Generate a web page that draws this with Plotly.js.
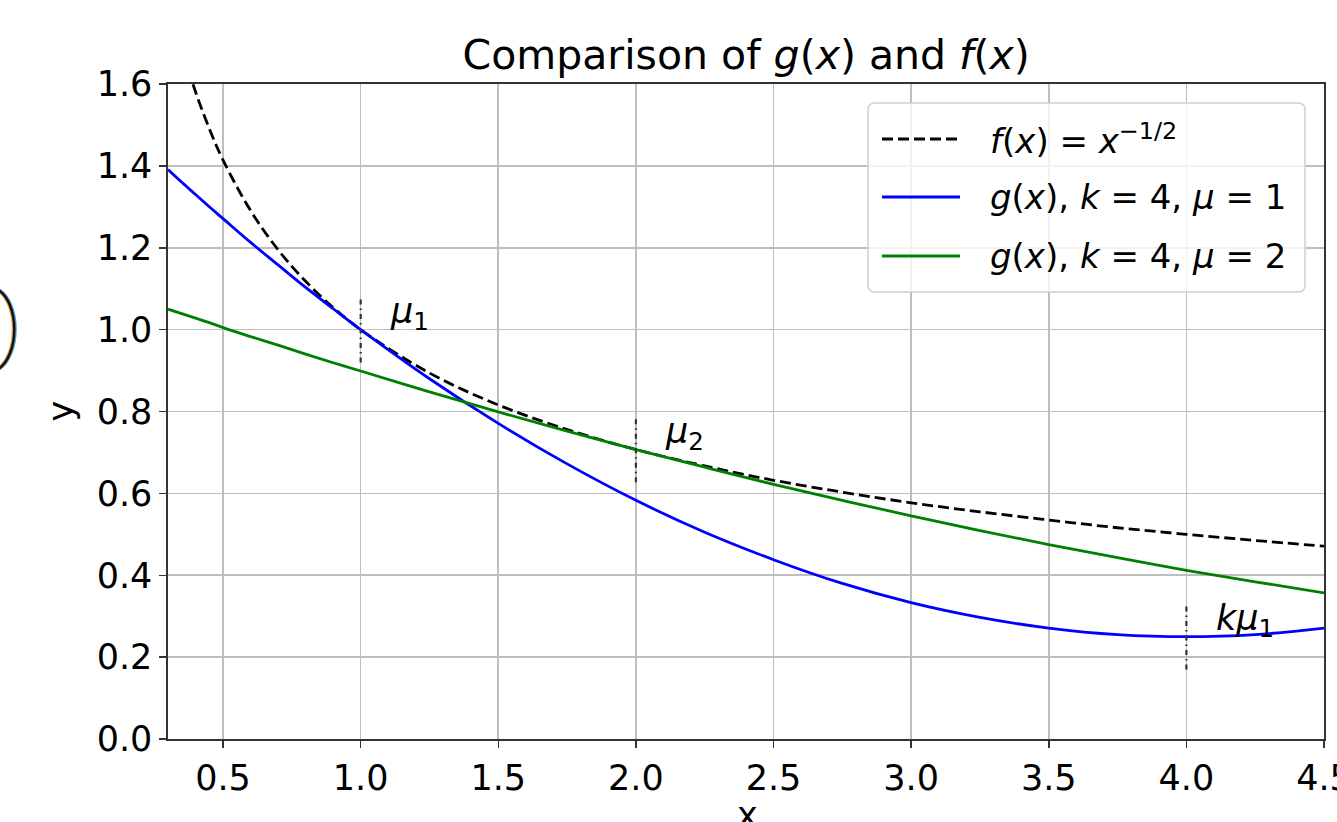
<!DOCTYPE html>
<html>
<head>
<meta charset="utf-8">
<script src="https://cdn.plot.ly/plotly-3.0.1.min.js"></script>
<style>html,body{margin:0;padding:0;background:#fff;overflow:hidden;}#chart{width:1337px;height:822px;}</style>
</head>
<body>
<div id="chart"></div>
<script>
// x samples
const xVals = [0.3,0.35,0.4,0.45,0.5,0.6,0.7,0.8,0.9,1.0,1.25,1.5,1.75,2.0,2.25,2.5,2.75,3.0,3.25,3.5,3.75,4.0,4.25,4.5];
// f(x) = x^(-1/2)  (dashed black)
const fVals = [1.826,1.690,1.581,1.491,1.414,1.291,1.195,1.118,1.054,1.000,0.894,0.816,0.756,0.707,0.667,0.632,0.603,0.577,0.555,0.535,0.516,0.500,0.485,0.471];
// g(x), k=4, mu=1 (blue)
const g1Vals = [1.391,1.360,1.330,1.300,1.271,1.213,1.158,1.103,1.051,1.000,0.880,0.771,0.672,0.583,0.505,0.438,0.380,0.333,0.297,0.271,0.255,0.250,0.255,0.271];
// g(x), k=4, mu=2 (green)
const g2Vals = [1.050,1.039,1.028,1.017,1.005,0.983,0.962,0.940,0.919,0.899,0.848,0.799,0.752,0.707,0.664,0.622,0.583,0.545,0.509,0.475,0.443,0.412,0.384,0.357];

// vertical markers
const muX = [1, 2, 4];
const muY = [1.0, 0.707, 0.25];
const muLabels = ['<i>μ</i><sub>1</sub>', '<i>μ</i><sub>2</sub>', '<i>kμ</i><sub>1</sub>'];

// tick labels
const xTicks = [0.5,1,1.5,2,2.5,3,3.5,4,4.5];
const xTickText = ['0.5','1.0','1.5','2.0','2.5','3.0','3.5','4.0','4.5'];
const yTicks = [0,0.2,0.4,0.6,0.8,1.0,1.2,1.4,1.6];
const yTickText = ['0.0','0.2','0.4','0.6','0.8','1.0','1.2','1.4','1.6'];

const seriesNames = ['<i>f</i>(<i>x</i>) = <i>x</i><sup>−1/2</sup>',
                     '<i>g</i>(<i>x</i>), <i>k</i> = 4, <i>μ</i> = 1',
                     '<i>g</i>(<i>x</i>), <i>k</i> = 4, <i>μ</i> = 2'];
const seriesColors = ['#000000', '#0000ff', '#008000'];
const seriesDash = ['11px,5px', 'solid', 'solid'];

const FONT = 'DejaVu Sans, Verdana, sans-serif';

const traces = [];
[fVals, g1Vals, g2Vals].forEach((ys, i) => {
  traces.push({
    x: xVals, y: ys, type: 'scatter', mode: 'lines', name: seriesNames[i],
    line: {color: seriesColors[i], width: 2.8, dash: seriesDash[i], shape: 'spline', smoothing: 1},
    showlegend: false, hoverinfo: 'skip'
  });
});

const half = 0.08;
const mx = [], my = [];
muX.forEach((m, i) => { mx.push(m, m, null); my.push(muY[i] - half, muY[i] + half, null); });
traces.push({x: mx, y: my, type: 'scatter', mode: 'lines',
  line: {color: '#333', width: 2.2, dash: '5px,4px,1.5px,4px'}, showlegend: false, hoverinfo: 'skip'});

const annotations = muX.map((m, i) => ({
  x: m + 0.1, y: muY[i] + 0.04, xref: 'x', yref: 'y', xanchor: 'left', yanchor: 'middle',
  text: muLabels[i], showarrow: false, font: {family: FONT, size: 35, color: '#000'}
}));

// pixel -> paper helpers for the plot area (168..1324, 84..739)
const px = p => (p - 168) / 1156;
const py = p => (739 - p) / 655;

// axis titles
annotations.push({x: px(747), y: py(815), xref: 'paper', yref: 'paper', xanchor: 'center', yanchor: 'middle',
  text: 'x', showarrow: false, font: {family: FONT, size: 35, color: '#000'}});
annotations.push({x: px(60), y: 0.5, xref: 'paper', yref: 'paper', xanchor: 'center', yanchor: 'middle',
  text: 'y', textangle: -90, showarrow: false, font: {family: FONT, size: 35, color: '#000'}});

// manual legend
const lx0 = px(868), lx1 = px(1305), ly0 = py(292), ly1 = py(103);
const rx = 7 / 1156, ry = 7 / 655;
const boxPath = `M${lx0+rx},${ly0} L${lx1-rx},${ly0} Q${lx1},${ly0} ${lx1},${ly0+ry} L${lx1},${ly1-ry} Q${lx1},${ly1} ${lx1-rx},${ly1} L${lx0+rx},${ly1} Q${lx0},${ly1} ${lx0},${ly1-ry} L${lx0},${ly0+ry} Q${lx0},${ly0} ${lx0+rx},${ly0} Z`;
const shapes = [{type: 'path', xref: 'paper', yref: 'paper', path: boxPath,
  fillcolor: 'rgba(255,255,255,0.8)', line: {color: '#d0d0d0', width: 1.5}, layer: 'above'}];
const rowY = [139, 197, 256];
rowY.forEach((r, i) => {
  shapes.push({type: 'line', xref: 'paper', yref: 'paper', x0: px(882), x1: px(960), y0: py(r), y1: py(r),
    line: {color: seriesColors[i], width: 2.8, dash: seriesDash[i]}, layer: 'above'});
  annotations.push({x: px(988), y: py(r), xref: 'paper', yref: 'paper', xanchor: 'left', yanchor: 'middle',
    text: seriesNames[i], showarrow: false, font: {family: FONT, size: 34, color: '#000'}});
});

// stray parenthesis fragment at the left edge
const arc = (dx, col, w) => ({type: 'path', xref: 'paper', yref: 'paper',
  path: `M${px(-3+dx)},${py(289)} C${px(20+dx)},${py(302)} ${px(20+dx)},${py(356)} ${px(-3+dx)},${py(370)}`,
  line: {color: col, width: w}, layer: 'above'});
shapes.push(arc(-1.5, '#e8a040', 2), arc(1.5, '#4aa0e0', 2), arc(0, '#1a1008', 2.5));

const axisCommon = {
  showline: true, linecolor: '#333', linewidth: 1.6, mirror: true,
  ticks: 'outside', ticklen: 7, tickwidth: 1.5, tickcolor: '#333',
  showgrid: true, gridcolor: '#bebebe', gridwidth: 1.6, zeroline: false,
  ticklabeloverflow: 'allow',
  tickfont: {family: FONT, size: 35, color: '#000'}
};

const layout = {
  width: 1337, height: 822,
  margin: {l: 168, r: 13, t: 84, b: 83},
  paper_bgcolor: '#fff', plot_bgcolor: '#fff',
  title: {text: 'Comparison of <i>g</i>(<i>x</i>) and <i>f</i>(<i>x</i>)', font: {family: FONT, size: 41, color: '#000'},
          x: 0.5581, xanchor: 'center', xref: 'container', y: 1 - 55/822, yanchor: 'middle', yref: 'container'},
  xaxis: Object.assign({}, axisCommon, {range: [0.3, 4.5], tickvals: xTicks, ticktext: xTickText}),
  yaxis: Object.assign({}, axisCommon, {range: [0, 1.6], tickvals: yTicks, ticktext: yTickText}),
  showlegend: false,
  annotations: annotations,
  shapes: shapes
};

Plotly.newPlot('chart', traces, layout, {displayModeBar: false, staticPlot: true});
</script>
</body>
</html>
